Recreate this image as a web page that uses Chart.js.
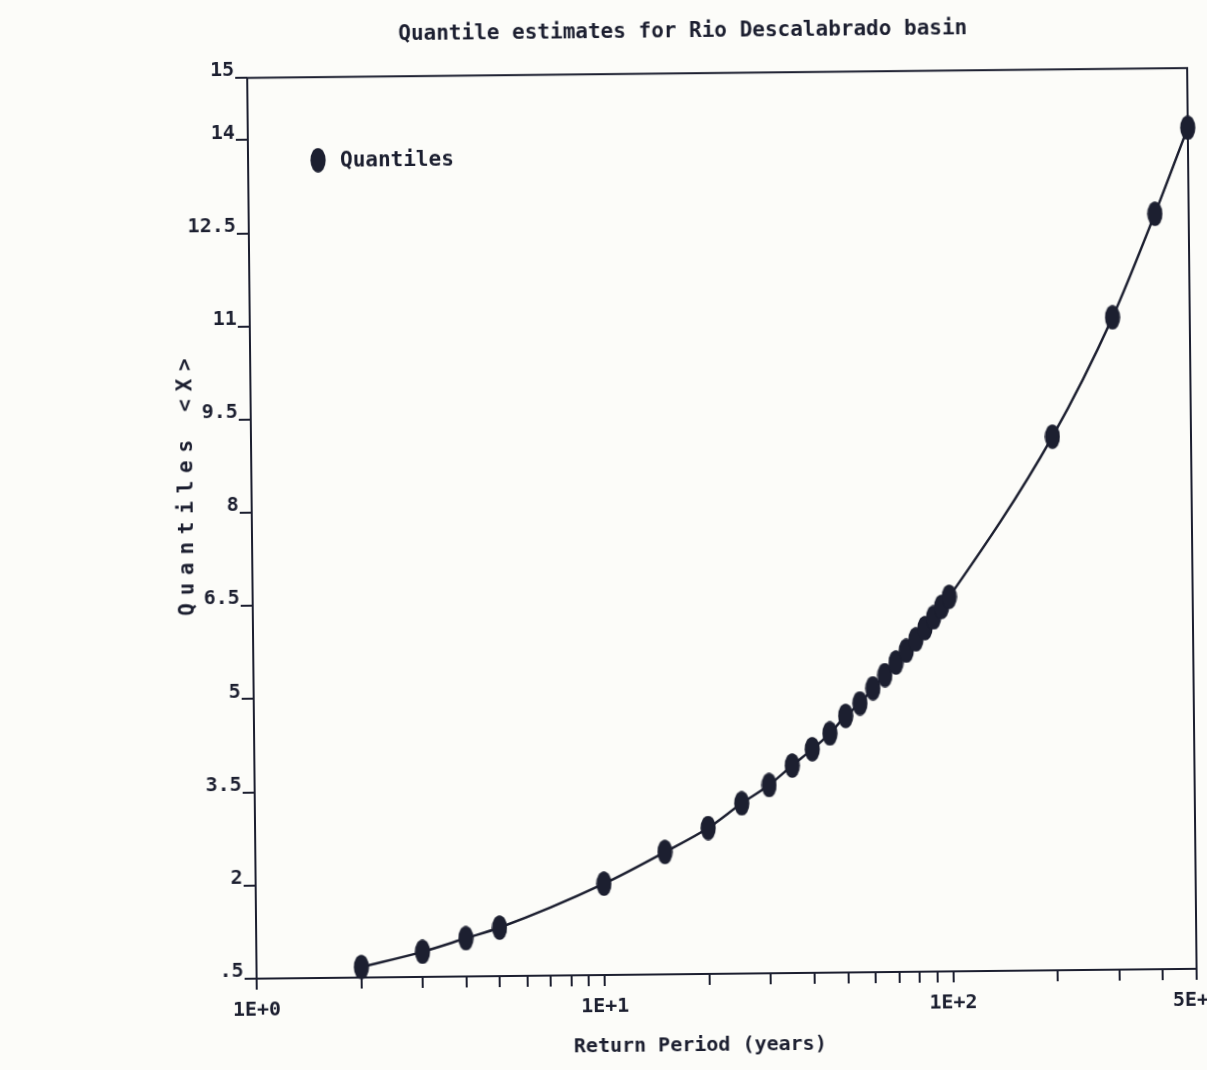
<!DOCTYPE html>
<html>
<head>
<meta charset="utf-8">
<title>Quantile estimates for Rio Descalabrado basin</title>
<script src="https://cdn.jsdelivr.net/npm/chart.js@4.4.0/dist/chart.umd.min.js"></script>
<style>
  html, body { margin: 0; padding: 0; background: #fcfcf9; overflow: hidden; }
  #sheet { position: relative; width: 1207px; height: 1070px; background: #fcfcf9;
           transform: rotate(-0.6deg); transform-origin: 603.5px 535px; }
  #wrap { position: absolute; left: 160px; top: 0; width: 1060px; height: 1070px; }
</style>
</head>
<body>
<div id="sheet"><div id="wrap"><canvas id="c" width="1060" height="1070"></canvas></div></div>
<script>
// Return periods (years) and the estimated quantiles at each of them
const returnPeriods = [2, 3, 4, 5, 10, 15, 20, 25, 30, 35, 40, 45, 50, 55, 60, 65, 70, 75, 80, 85, 90, 95, 100, 200, 300, 400, 500];
const quantiles = [0.67, 0.905, 1.115, 1.28, 1.97, 2.47, 2.85, 3.24, 3.53, 3.84, 4.10, 4.35, 4.63, 4.83, 5.07, 5.28, 5.48, 5.67, 5.85, 6.03, 6.20, 6.37, 6.53, 9.09, 11.00, 12.66, 14.04];

// Axis ticks
const xLabelValues = [1, 10, 100, 500];
const xLabelTexts = ['1E+0', '1E+1', '1E+2', '5E+2'];
const xMinorTicks = [2, 3, 4, 5, 6, 7, 8, 9, 20, 30, 40, 50, 60, 70, 80, 90, 200, 300, 400];
const yTickValues = [0.5, 2, 3.5, 5, 6.5, 8, 9.5, 11, 12.5, 14, 15];
const yTickLabels = ['.5', '2', '3.5', '5', '6.5', '8', '9.5', '11', '12.5', '14', '15'];

const INK = '#1c1f30';
const FONT = '"DejaVu Sans Mono", "Liberation Mono", monospace';

// Tall elliptical marker used for the points and the key
function makeMarker() {
  const c = document.createElement('canvas');
  c.width = 16; c.height = 25;
  const g = c.getContext('2d');
  g.fillStyle = INK;
  g.beginPath();
  g.ellipse(8, 12.5, 7.6, 12.2, 0, 0, Math.PI * 2);
  g.fill();
  return c;
}
const marker = makeMarker();

// Box around the plotting area
const framePlugin = {
  id: 'frame',
  beforeDatasetsDraw(chart) {
    const { ctx, chartArea: a } = chart;
    ctx.save();
    ctx.strokeStyle = INK;
    ctx.lineWidth = 2;
    ctx.strokeRect(a.left, a.top, a.right - a.left, a.bottom - a.top);
    ctx.restore();
  }
};

// Key inside the plot, axis titles
const textPlugin = {
  id: 'texts',
  afterDraw(chart) {
    const { ctx, chartArea: a } = chart;
    const ds = chart.data.datasets[0];
    ctx.save();
    ctx.fillStyle = INK;

    // key
    const img = ds.pointStyle;
    ctx.drawImage(img, a.left + 70 - img.width / 2, a.top + 83 - img.height / 2);
    ctx.font = 'bold 21px ' + FONT;
    ctx.textBaseline = 'middle';
    ctx.textAlign = 'left';
    ctx.fillText(ds.label, a.left + 92, a.top + 84);

    // x axis title
    ctx.font = 'bold 20px ' + FONT;
    ctx.textAlign = 'center';
    ctx.fillText('Return Period (years)', a.left + 443, a.bottom + 72);

    // y axis title, spaced letters reading upwards
    const yTitle = 'Quantiles <X>';
    const pitch = 20.4;
    ctx.translate(a.left - 59.5, a.top + 408.6);
    ctx.rotate(-Math.PI / 2);
    ctx.font = 'bold 21px ' + FONT;
    ctx.textBaseline = 'alphabetic';
    ctx.textAlign = 'left';
    const total = pitch * yTitle.length;
    for (let i = 0; i < yTitle.length; i++) {
      const ch = yTitle[i];
      const w = ctx.measureText(ch).width;
      ctx.fillText(ch, -total / 2 + i * pitch + (pitch - w) / 2, 0);
    }
    ctx.restore();
  }
};

const points = returnPeriods.map((t, i) => ({ x: t, y: quantiles[i] }));

new Chart(document.getElementById('c'), {
  type: 'line',
  data: {
    datasets: [{
      label: 'Quantiles',
      data: points,
      borderColor: INK,
      backgroundColor: INK,
      borderWidth: 2.5,
      cubicInterpolationMode: 'monotone',
      pointStyle: marker,
      pointRadius: 7,
      pointHoverRadius: 7,
      clip: false
    }]
  },
  options: {
    responsive: false,
    devicePixelRatio: 1,
    animation: false,
    events: [],
    layout: { padding: { left: 24, right: 28, top: 0, bottom: 0 } },
    plugins: {
      legend: { display: false },
      tooltip: { enabled: false },
      title: {
        display: true,
        text: 'Quantile estimates for Rio Descalabrado basin',
        color: INK,
        font: { family: FONT, size: 21, weight: 'bold', lineHeight: 1.2 },
        padding: { top: 20, bottom: 29 }
      }
    },
    scales: {
      x: {
        type: 'logarithmic',
        min: 1,
        max: 500,
        afterBuildTicks(scale) {
          const vals = xLabelValues.concat(xMinorTicks).sort((p, q) => p - q);
          scale.ticks = vals.map(v => ({ value: v, major: xLabelValues.includes(v) }));
        },
        afterFit(scale) {
          scale.height = 95;
          scale.paddingLeft = 0;
          scale.paddingRight = 0;
        },
        ticks: {
          autoSkip: false,
          maxRotation: 0,
          minRotation: 0,
          padding: 9,
          color: INK,
          font: { family: FONT, size: 20, weight: 'bold', lineHeight: 1.2 },
          callback(value) {
            const k = xLabelValues.indexOf(value);
            return k >= 0 ? xLabelTexts[k] : '';
          }
        },
        grid: { drawOnChartArea: false, drawTicks: true, tickLength: 11, color: INK, lineWidth: 2 },
        border: { display: false }
      },
      y: {
        type: 'linear',
        min: 0.5,
        max: 15,
        afterBuildTicks(scale) {
          scale.ticks = yTickValues.map(v => ({ value: v }));
        },
        afterFit(scale) {
          scale.width = 68;
          scale.paddingTop = 0;
          scale.paddingBottom = 0;
        },
        ticks: {
          padding: 1,
          color: INK,
          font: { family: FONT, size: 20, weight: 'bold', lineHeight: 0.7 },
          callback(value) {
            const k = yTickValues.indexOf(value);
            return [k >= 0 ? yTickLabels[k] : '', ''];
          }
        },
        grid: { drawOnChartArea: false, drawTicks: true, tickLength: 12, color: INK, lineWidth: 2 },
        border: { display: false }
      }
    }
  },
  plugins: [framePlugin, textPlugin]
});
</script>
</body>
</html>
